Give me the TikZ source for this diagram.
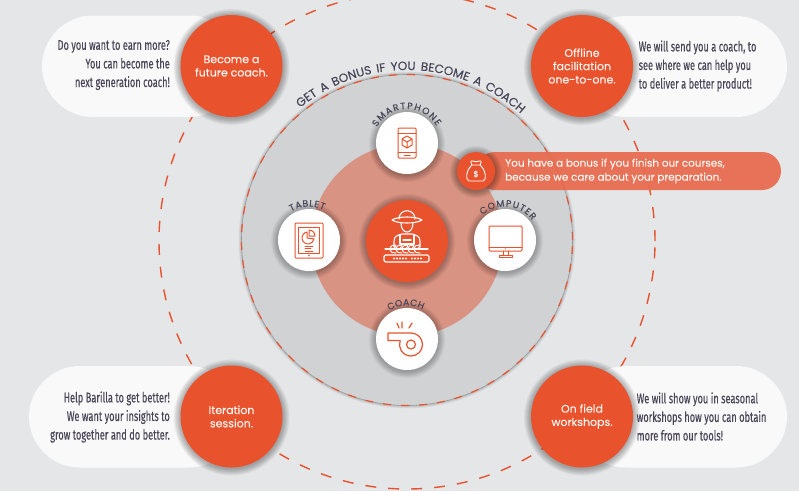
\documentclass[tikz,border=0pt]{standalone}
\usepackage{fontspec}
\setmainfont[FakeBold=0.35]{Poppins}
\newfontfamily\cond[FakeStretch=0.66,FakeBold=0.3]{Fira Sans}
\usetikzlibrary{decorations.text}
\definecolor{bgc}{HTML}{E4E6E8}
\definecolor{pillc}{HTML}{FBFBFC}
\definecolor{org}{HTML}{E8522D}
\definecolor{salm}{HTML}{D99382}
\definecolor{grayc}{HTML}{D0D2D4}
\definecolor{ink}{HTML}{4A4658}
\definecolor{bonus}{HTML}{E86A4E}
\definecolor{txtw}{HTML}{FFF3EE}
\newcommand\softshadow[4][0.022]{\foreach \k in {1,...,12}{\fill[black,opacity=#1] (#2,#3+1) circle[radius={(#4+\k*.6)*1pt}];}}
\tikzset{
 bigdisc/.style={circle,fill=org,minimum size=102pt,inner sep=0pt,text=txtw,align=center,font=\fontsize{11}{13.3}\selectfont},
 whitedisc/.style={circle,fill=white,minimum size=62pt,inner sep=0pt},
 pillbox/.style={fill=pillc,fill opacity=.94,rounded corners=51pt},
 sidetext/.style={text=ink,inner sep=0pt,font=\cond\fontsize{14}{18.6}\selectfont},
 icon/.style={draw=org,line width=1pt,line join=round,line cap=round},
 wicon/.style={draw=white,line width=1.1pt,line join=round,line cap=round},
}
\begin{document}
\begin{tikzpicture}[x=1pt,y=-1pt]
\useasboundingbox (0,0) rectangle (799,491);
\fill[bgc] (0,0) rectangle (799,491);
% outer dashed ring
\draw[org,line width=1.4pt,dash pattern=on 11pt off 12pt] (407,241) circle[radius=248pt];
% grey disc
\foreach \k in {1,...,6}{\fill[black,opacity=.03] (407,240) circle[radius={(165.5+\k*.5)*1pt}];}
\fill[grayc] (407,240) circle[radius=165.5pt];
\draw[black!40,line width=.6pt] (407,240) circle[radius=165.5pt];
\draw[org,line width=1.2pt,dash pattern=on 8pt off 10pt] (407,240) circle[radius=165.5pt];
% salmon disc
\fill[salm] (407,240) circle[radius=96pt];
% curved title
\path[decorate,decoration={text along path,text align={fit to path stretching spaces},text={|\fontsize{12}{12}\selectfont\color{ink}|GET A BONUS IF YOU BECOME A COACH}}] ([shift={(407,240)}]129:170pt) arc[start angle=129,end angle=48,radius=170pt];
% white discs
\softshadow{407}{143}{31}
\softshadow{309}{240}{31}
\softshadow{505}{240}{31}
\softshadow{407}{339}{31}
\softshadow{407}{241}{41}
\node[whitedisc] (phone) at (407,143) {};
\node[whitedisc] (tablet) at (309,240) {};
\node[whitedisc] (computer) at (505,240) {};
\node[whitedisc] (coach) at (407,339) {};
\node[circle,fill=org,minimum size=82pt,inner sep=0pt] (farmer) at (407,241) {};
% arc labels
\path[decorate,decoration={text along path,text align={fit to path},text={|\fontsize{9.2}{9.2}\selectfont\color{ink}|SMARTPHONE}}] ([shift={(407,143)}]152:34pt) arc[start angle=152,end angle=30,radius=34pt];
\path[decorate,decoration={text along path,text align={fit to path},text={|\fontsize{9.2}{9.2}\selectfont\color{ink}|TABLET}}] ([shift={(309,240)}]122:33.5pt) arc[start angle=122,end angle=64,radius=33.5pt];
\path[decorate,decoration={text along path,text align={fit to path},text={|\fontsize{9.2}{9.2}\selectfont\color{ink}|COMPUTER}}] ([shift={(505,240)}]132:33.5pt) arc[start angle=132,end angle=36,radius=33.5pt];
\path[decorate,decoration={text along path,text align={fit to path},text={|\fontsize{9.2}{9.2}\selectfont\color{ink}|COACH}}] ([shift={(407,339)}]122:33.5pt) arc[start angle=122,end angle=62,radius=33.5pt];
% phone icon
\draw[icon,rounded corners=1pt] (398,128) rectangle (416,158);
\draw[icon] (398,133) -- (416,133) (398,152) -- (416,152) (404,155) -- (410,155);
\draw[icon] (407,136) -- (412,139) -- (412,145) -- (407,148) -- (402,145) -- (402,139) -- cycle (402,139) -- (407,142) -- (412,139) (407,142) -- (407,148);
% tablet icon
\draw[icon,rounded corners=1pt] (295,223) rectangle (323,258);
\draw[icon] (298,227) rectangle (319,253);
\draw[icon] (309,230) arc[start angle=90,end angle=0,radius=6pt] -- (309,236) -- cycle;
\draw[icon] (307,232) arc[start angle=100,end angle=350,radius=6pt] -- (307,238) -- cycle;
\draw[icon,line width=.6pt] (305,246) -- (313,246) (305,248.5) -- (311,248.5) (305,251) -- (313,251);
\fill[org] (309,255.5) circle[radius=.8pt];
% computer icon
\draw[icon,rounded corners=1pt] (489,226) rectangle (522,251);
\draw[icon] (489,247) -- (522,247);
\draw[icon] (503,251) -- (503,255) (508,251) -- (508,255);
\draw[icon] (499,255) rectangle (512,257);
\fill[org] (505.5,249) circle[radius=.6pt];
% whistle icon
\draw[icon,line width=1.2pt] (399.6,340.5) -- (388,340.5) -- (388,333) -- (411,333) arc[start angle=90,end angle=-200,radius=11.5pt];
\draw[icon,line width=1.2pt] (411,344.5) circle[radius=4.5pt];
\draw[icon,line width=1.2pt] (397,323) -- (399,328) (402,322) -- (402,328) (412,323) -- (409,328);
% farmer icon
\draw[wicon] (392,220) .. controls (398,224) and (416,224) .. (422,220) .. controls (416,216) and (398,216) .. (392,220);
\draw[wicon] (399,219) .. controls (399,208) and (415,208) .. (415,219);
\draw[wicon] (401,223) .. controls (401,235) and (413,235) .. (413,223);
\draw[wicon] (394,247) -- (394,241) .. controls (394,236) and (398,235) .. (402,234) -- (412,234) .. controls (416,235) and (420,236) .. (420,241) -- (420,247);
\draw[wicon] (400,235) -- (400,244) -- (414,244) -- (414,235) (403,240) -- (411,240);
\draw[wicon] (385,249) -- (428,249);
\foreach \x in {390,396,402,408,414}{\draw[wicon,line width=1pt] (\x,249) .. controls (\x+1,245) and (\x+3,245) .. (\x+6,245) .. controls (\x+5,249) and (\x+3,249) .. (\x,249) .. controls (\x+1,253) and (\x+3,253) .. (\x+6,253);}
\draw[wicon,rounded corners=1.5pt] (384,255) rectangle (429,262);
\foreach \x in {394,397,400,403,406,412,415,418,421}{\fill[white] (\x,258.5) circle[radius=1.2pt];}
% pills
\fill[pillbox] (42,15.5) rectangle (240,117);
\fill[pillbox] (575,16) rectangle (787,117);
\fill[pillbox] (29,366) rectangle (240,467.5);
\fill[pillbox] (575,366) rectangle (787,467.5);
% big discs
\softshadow[0.028]{231.5}{66}{51}
\softshadow[0.028]{582}{66}{51}
\softshadow[0.028]{231.5}{416.5}{51}
\softshadow[0.028]{582}{416.5}{51}
\node[bigdisc] (tl) at (231.5,66) {Become a\\future coach.};
\node[bigdisc] (tr) at (582,66) {Offline\\facilitation\\one-to-one.};
\node[bigdisc] (bl) at (231.5,416.5) {Iteration\\session.};
\node[bigdisc] (br) at (582,416.5) {On field\\workshops.};
% side texts
\node[sidetext,align=right,anchor=east] (tltxt) at (170,65) {Do you want to earn more?\\You can become the\\next generation coach!};
\node[sidetext,align=left,anchor=west] (trtxt) at (638.5,66) {We will send you a coach, to\\see where we can help you\\to deliver a better product!};
\node[sidetext,align=right,anchor=east] (bltxt) at (170,417) {Help Barilla to get better!\\We want your insights to\\grow together and do better.};
\node[sidetext,align=left,anchor=west] (brtxt) at (636.5,416.5) {We will show you in seasonal\\workshops how you can obtain\\more from our tools!};
% bonus bar
\fill[bonus,fill opacity=.93,rounded corners=19pt] (476,152) rectangle (781,190);
\softshadow[0.028]{476}{171}{19}
\node[circle,fill=org,minimum size=38pt,inner sep=0pt] (bag) at (476,171) {};
\draw[wicon,line width=.9pt] (472,165) .. controls (465,171) and (466,181) .. (469,181) -- (483,181) .. controls (486,181) and (487,171) .. (480,165) -- cycle;
\draw[wicon,line width=.9pt] (472,165) .. controls (470,161) and (471,160) .. (473,161) .. controls (475,162) and (477,162) .. (479,161) .. controls (481,160) and (482,161) .. (480,165);
\node[text=white,inner sep=0pt,font=\fontsize{8}{8}\selectfont] (dollar) at (476,174) {\$};
\node[text=txtw,align=left,anchor=west,inner sep=0pt,font=\fontsize{10.4}{14}\selectfont] (bonustxt) at (505,171) {You have a bonus if you finish our courses,\\because we care about your preparation.};
\end{tikzpicture}
\end{document}
